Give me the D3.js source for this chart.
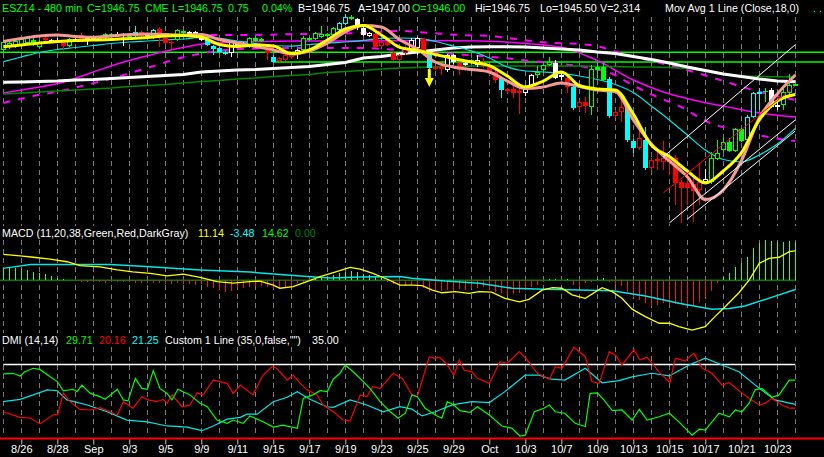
<!DOCTYPE html>
<html>
<head>
<meta charset="utf-8">
<script src="https://cdn.jsdelivr.net/npm/d3@7"></script>
<style>
  html, body { margin: 0; padding: 0; background: #000; }
  svg { display: block; }
  text { font-family: "Liberation Sans", Arial, sans-serif; font-size: 10.7px; }
</style>
</head>
<body>
<div id="chart"></div>
<script>
// ---- data: ESZ14 480 min bars (8/25 .. 10/24), 3 bars per session
var opens = [1977.75,1980.25,1981.25,1982,1984,1986.5,1980.25,1988.5,1986.5,1984.75,
  1984.75,1981.25,1987.5,1991,1985.75,1988.5,1987.5,1989.25,1992,1992,
  1992,1989.25,1990.25,1993.75,1991,1988.5,1996.5,1988.5,1984.75,1986.5,
  1994.75,1992,1993.75,1989.25,1986.5,1981.25,1979.5,1975.75,1975,1984,
  1982,1980.25,1988.5,1985.75,1977.75,1971.5,1967.75,1968.75,1971.5,1974,
  1977.75,1988.5,1987.5,1989.25,1992,1991,1995.5,2001,2007.25,2005.5,
  1997.5,1990.25,1992,1981.25,1984.75,1975,1968.75,1975,1977.75,1979.5,
  1987.5,1975,1960.5,1962.5,1959.75,1973.25,1966,1966,1968.75,1964.25,
  1966,1962.5,1958,1952.5,1941,1942.75,1941,1939,1945.5,1955.25,
  1959.75,1964.25,1966,1953.5,1952.5,1944.5,1926.5,1931,1926.5,1962.5,
  1962.5,1951.75,1918.5,1922,1928.25,1896,1889.75,1897,1871.75,1880,
  1877.25,1880,1880.75,1859.25,1858.25,1857.5,1852,1859.25,1859.25,1880,
  1888,1895,1887,1906.75,1897,1917.5,1939,1941,1941.75,1926.5,
  1928.25,1939,1946];
var highs = [1986.5,1985.75,1987.5,1989.25,1990.25,1988.5,1986.5,1989.25,1987.5,1988.5,
  1986.5,1988.5,1988.5,1993,1990.25,1989.25,1990.25,1993,1993,1993.75,
  1993,1992,1999.25,1994.75,1992,1996.5,1998.25,1990.25,1985.75,1996.5,
  1995.5,1994.75,1994.75,1990.25,1987.5,1982,1980.25,1976.75,1985.75,1984.75,
  1984.75,1989.25,1990.25,1988.5,1978.5,1973.25,1971.5,1974,1976.75,1978.5,
  1990.25,1989.25,1993.75,1999.25,1993,1998.25,2002.75,2010,2009,2006.25,
  1998.25,1993.75,1993,1985.75,1985.75,1975.75,1974,1982,1988.5,1989.25,
  1988.5,1975.75,1963.25,1963.25,1974,1974,1967,1968.75,1969.5,1973.25,
  1970.5,1963.25,1959.75,1953.5,1943.5,1945.5,1943.5,1946.25,1956,1963.25,
  1965,1971.5,1968.75,1957,1953.5,1945.5,1932.75,1935.5,1964.25,1967,
  1966,1953.5,1923.75,1932.75,1931,1897.75,1906,1908.5,1880.75,1888,
  1896,1883.5,1883.5,1861,1862.75,1864.5,1876.25,1871,1886.25,1897,
  1898.75,1898.75,1907.75,1907.75,1919.25,1940,1943.5,1943.5,1943.5,1932.75,
  1944.5,1956,1946.75];
var lows = [1975.75,1978.5,1979.5,1980.25,1983,1981.25,1979.5,1985.75,1984,1984,
  1976.75,1980.25,1984.75,1984.75,1982,1985.75,1986.5,1987.5,1989.25,1989.25,
  1981.25,1988.5,1989.25,1989.25,1989.25,1987.5,1980.25,1983,1978.5,1985.75,
  1992,1991,1990.25,1985.75,1981.25,1973.25,1975,1973.25,1971.5,1981.25,
  1981.25,1979.5,1984.75,1984.75,1968.75,1966,1967,1967.75,1969.5,1969.5,
  1976.75,1985.75,1986.5,1988.5,1989.25,1990.25,1994.75,2000,2004.5,1995.5,
  1990.25,1989.25,1979.5,1980.25,1981.25,1967.75,1967.75,1973.25,1975.75,1973.25,
  1974,1960.5,1959.75,1955.25,1958,1965,1955.25,1963.25,1965,1962.5,
  1961.5,1955.25,1948,1934.5,1939,1934.5,1920.25,1936.5,1944.5,1952.5,
  1957,1963.25,1951.75,1950.75,1939,1923.75,1923.75,1921,1919.25,1952.5,
  1949.75,1916.75,1916.75,1913,1895,1885.25,1888,1870,1870,1870,
  1870,1865.5,1838.5,1822.5,1838.5,1823.25,1838.5,1858.25,1857.5,1879,
  1886.25,1886.25,1886.25,1895,1896,1916.75,1923.75,1931,1925.5,1923.75,
  1923.75,1937.25,1945.5];
var closes = [1984.75,1984,1985.75,1987.5,1988.5,1984,1984.75,1986.5,1985.75,1986.5,
  1981.25,1987.5,1985.75,1985.75,1988.5,1987.5,1989.25,1992,1990.25,1990.25,
  1991,1991,1993.75,1990.25,1990.25,1995.5,1993,1984,1984,1995.5,
  1993,1993.75,1992,1986.5,1982,1978.5,1975.75,1974,1984.75,1982,
  1984,1988.5,1985.75,1987.5,1975,1967,1970.5,1973.25,1975.75,1977.75,
  1988.5,1986.5,1993,1992,1990.25,1997.5,2002,2007.25,2005.5,1998.25,
  1991,1993,1980.25,1984.75,1982,1968.75,1973.25,1978.5,1986.5,1988.5,
  1975,1961.5,1962.5,1960.5,1973.25,1967,1959.75,1964.25,1966,1968.75,
  1963.25,1958,1950.75,1941.75,1942.75,1939,1939,1944.5,1955.25,1958,
  1964.25,1967,1952.5,1955.25,1944.5,1925.5,1931,1927.5,1960.5,1959.75,
  1950.75,1918.5,1922,1926.5,1897,1889.75,1898.75,1871.75,1879,1878,
  1880.75,1877.25,1858.25,1854,1854,1851,1859.25,1862,1880.75,1885.25,
  1895,1887,1906.75,1896,1917.5,1939,1940,1940,1926.5,1928.25,
  1940,1946.25,1946.75];
// paintbar colour per bar: g green, r red, c cyan, w white
var barColors = "gggggggrww" + "rgwrwwgggw" + "wgcrwcrrrg" + "gwwwccccww" + "wgggrcrrrw" +
  "ggggggccgw" + "wwrrrrrrww" + "rcrrwwrwgw" + "rrrcrrrwwg" + "ggwwrcrrgg" +
  "gcrrccrcrr" + "rrrrrrrwgg" + "ggggcccgww" + "ggg";

// moving averages, one value per session (bar = 3 * index)
var maYellow = [1980.6,1982.1,1983.9,1985.3,1986.2,1986.6,1987.1,1988.0,1988.9,1990.2,
  1990.7,1989.3,1982.6,1980.8,1982.1,1981.2,1974.5,1977.7,1986.6,1996.5,
  1999.6,1991.1,1980.3,1977.2,1973.6,1970.0,1966.9,1963.7,1954.3,1944.5,
  1949.8,1957.9,1945.8,1942.7,1941.8,1920.2,1892.4,1882.1,1869.1,1858.3,
  1869.1,1885.3,1914.9,1931.9,1937.7];
var maPink = [1985.3,1988.0,1990.2,1991.1,1989.8,1989.0,1990.2,1991.5,1992.0,1991.5,
  1991.1,1991.5,1987.1,1983.9,1980.8,1977.7,1974.1,1976.8,1983.7,1993.8,
  1999.6,1998.3,1987.1,1978.5,1966.9,1962.4,1960.2,1957.9,1949.8,1943.1,
  1944.5,1948.0,1944.9,1941.8,1940.4,1914.9,1893.3,1878.1,1864.0,1843.5,
  1852.1,1878.1,1916.7,1938.2,1955.2];
var maCyan = [1967.2,1971.4,1975.4,1978.1,1979.9,1981.7,1983.5,1984.8,1985.7,1986.6,
  1987.5,1988.9,1988.0,1985.7,1983.5,1981.7,1981.2,1982.6,1983.9,1984.8,
  1986.2,1988.0,1988.4,1988.0,1985.3,1981.2,1976.8,1970.5,1962.4,1958.8,
  1957.9,1956.6,1954.3,1951.2,1946.7,1939.5,1927.4,1914.9,1901.4,1888.0,
  1879.4,1877.2,1883.5,1893.3,1907.4];
var maWhite = [1948.7,1948.9,1949.4,1949.8,1950.7,1951.2,1952.1,1953.0,1953.9,1954.8,
  1955.7,1957.9,1958.8,1959.7,1960.2,1961.1,1962.0,1962.8,1964.6,1966.4,
  1970.5,1971.8,1974.1,1975.9,1977.7,1979.4,1980.3,1980.6,1980.6,1980.3,
  1979.4,1978.5,1977.7,1975.9,1974.5,1971.8,1969.1,1966.0,1962.4,1959.3,
  1956.1,1953.9,1951.6,1949.8,1949.2];
var maGreen = [1938.2,1939.1,1940.0,1940.9,1941.8,1942.7,1943.6,1944.9,1945.8,1946.7,
  1948.0,1949.4,1950.3,1951.6,1952.5,1953.9,1954.8,1955.7,1957.5,1958.4,
  1959.3,1960.6,1961.5,1962.0,1962.4,1962.8,1963.3,1963.3,1963.3,1963.3,
  1963.3,1963.3,1963.3,1962.8,1962.8,1962.4,1962.4,1962.0,1961.1,1958.8,
  1956.1,1954.3,1953.9,1953.7,1953.4];

// magenta envelope, [bar, price]
var envMid = [[0,1939.1],[5,1943.6],[9.5,1948.0],[14.5,1957.0],[19.5,1966.0],[24.5,1973.2],
  [29.5,1979.4],[34.5,1983.9],[39.5,1984.8],[49.5,1985.7],[59.5,1985.7],[69.5,1986.2],
  [79.5,1985.7],[86,1983.9],[92.8,1980.3],[99.5,1966.9],[105,1950.7],[110,1940.0],
  [115,1932.8],[121.6,1925.6],[127.3,1920.2],[132,1917.5]];
var envLow = [[0,1930.1],[5,1936.4],[9.5,1940.9],[14.5,1947.2],[19.5,1954.3],[24.5,1962.4],
  [29.5,1970.5],[34.5,1975.9],[39.5,1978.5],[49.5,1979.4],[59.5,1979.4],[69.5,1975.9],
  [79.5,1972.3],[89.5,1966.9],[97.8,1961.5],[101.6,1956.1],[104.5,1947.2],[109,1935.5],
  [113.3,1925.6],[117,1914.0],[122.8,1905.0],[129.5,1897.8],[132,1896.0]];
var envHigh = [[27,1990.2],[32.8,1991.1],[40,1991.1],[49.5,1992.0],[59.5,1992.9],[66.1,1994.7],
  [71.1,1992.9],[76.1,1991.1],[81.1,1990.2],[89.5,1984.8],[97.8,1982.1],[104.5,1972.3],
  [112.8,1961.5],[119.5,1950.7],[126.1,1940.0],[132,1932.8]];

// horizontal levels and drawn trendlines
var levels = [{price: 1975.6, fromBar: -1}, {price: 1966.9, fromBar: 45}];
var trendLines = [
  {a: [110, 1881.7], b: [132, 1982.4], color: "#ffffff"},
  {a: [111, 1822.5], b: [132, 1914.9], color: "#ffffff"},
  {a: [114, 1826.0], b: [132, 1905.0], color: "#ffffff"},
  {a: [110, 1849.4], b: [132, 1945.4], color: "#ff0000"}
];
var arrowBars = [71];

// MACD (11,20,38), [bar, value]
var macdLine = [[0,9.8],[2.8,9.2],[5,8.7],[7.8,8.0],[10.6,7.0],[12.8,5.5],[16.1,5.1],[19,3.9],
  [21.6,3.2],[24.5,2.6],[27.3,1.7],[30,2.3],[32.8,1.1],[35.6,-0.5],[38.3,-1.1],[41.1,-0.5],
  [42.8,-0.3],[45,-1.8],[46.1,-3.0],[48.3,-2.4],[50.6,-0.5],[52.8,1.4],[55,2.9],[57.8,4.9],
  [59.5,4.2],[61.6,2.6],[64,0.4],[66.1,-1.8],[68.1,-1.8],[69.8,-2.0],[71.5,-3.7],[73.1,-4.7],
  [75.3,-4.3],[77.6,-4.9],[79.3,-4.3],[81.4,-4.5],[83.6,-6.8],[86,-8.1],[87.6,-7.2],[89.8,-3.7],
  [91.5,-2.8],[93.1,-3.0],[94.8,-5.5],[97,-6.8],[99.8,-2.8],[101.5,-4.3],[103.1,-6.8],[104.8,-10.9],
  [107,-13.7],[109.3,-16.2],[111,-16.2],[112.6,-17.5],[114.8,-18.8],[117,-17.5],[118.6,-13.7],
  [120.3,-10.0],[122.6,-4.7],[124.3,0.1],[126,6.4],[127.6,8.3],[129.3,8.7],[131,10.8],[132,11.1]];
var macdSignal = [[0,4.5],[4.5,6.0],[17.8,6.0],[24.5,5.1],[32.8,3.9],[41.1,3.1],[49.5,1.6],
  [54.5,0.9],[59.5,1.2],[66.1,1.4],[68.1,0.8],[73.6,-0.3],[79.3,-1.1],[84.8,-3.0],[90.3,-3.4],
  [96,-3.7],[101.5,-3.9],[107,-5.9],[112.6,-8.7],[118.1,-10.9],[121,-10.6],[123.6,-9.7],
  [129.3,-5.5],[132,-3.5]];
var macdHist = [4.5,4.8,4.8,4.2,3.7,3.3,2.6,2.3,1.6,0.7,
  0.4,0.1,-0.4,-0.5,-0.5,-0.6,-0.6,-0.9,-0.8,-0.6,
  -0.5,-0.8,-1.1,-0.9,-1.0,-1.1,-1.2,-1.4,-1.3,-1.1,
  -1.4,-1.5,-1.6,-1.5,-2.4,-3.0,-3.7,-4.3,-3.9,-3.3,
  -2.8,-2.4,-2.2,-2.0,-2.4,-2.8,-3.0,-2.4,-2.2,-1.1,
  -0.6,-0.1,0.7,1.1,1.4,2.0,2.6,3.3,3.5,3.3,
  2.3,2.0,1.4,0.7,-0.6,-1.4,-1.8,-2.2,-1.8,-2.4,
  -3.0,-4.3,-3.7,-3.9,-3.7,-3.9,-3.4,-3.7,-3.0,-2.8,
  -2.4,-3.7,-4.3,-4.9,-5.5,-5.2,-4.9,-3.7,-2.4,-1.8,
  -0.5,0.4,0.5,0.1,0.4,-1.8,-2.4,-1.1,-0.5,0.5,
  0.7,-0.5,-1.8,-2.2,-4.3,-6.2,-7.4,-8.7,-9.7,-9.3,
  -8.7,-9.3,-8.9,-8.7,-9.3,-9.3,-8.0,-6.4,-3.9,-1.1,
  1.1,2.6,5.1,6.4,8.7,12.1,14.0,15.2,15.0,14.6,
  14.6,15.0,14.6];

// DMI (14,14), [bar, value]
var diPlus = [[0,31.8],[1.6,32.0],[2.8,31.1],[3.6,32.5],[5,33.7],[6.1,33.3],[7.8,30.8],[9,29.2],
  [10,26.1],[11.6,26.6],[12.3,25.8],[13.1,28.0],[14.5,25.2],[16.1,24.1],[17,23.2],[19,26.6],
  [20,23.0],[20.8,22.7],[22,30.3],[23.1,26.9],[24,26.6],[25,32.9],[26.1,26.9],[27.3,25.2],
  [28.1,23.0],[29.1,26.6],[31.1,24.7],[32.8,21.9],[34,20.7],[35.6,16.2],[37.3,15.1],[38.3,16.2],
  [40,15.1],[41.1,17.6],[43.3,15.6],[45,13.8],[46.6,14.5],[49,13.4],[50,23.5],[51.6,24.7],
  [52.8,26.1],[54,25.8],[55,30.0],[56.1,32.0],[57,34.8],[58.3,32.5],[60,29.2],[61.1,26.9],
  [62.8,22.4],[64.5,19.0],[65.8,16.8],[67,18.5],[68.1,24.7],[69,24.1],[70.3,20.2],[72,17.9],
  [73.1,16.8],[74,22.4],[75.1,21.3],[76.1,19.4],[77.8,18.8],[79,20.7],[81,17.9],[83.1,14.2],
  [84.8,13.4],[86.1,10.8],[87,11.1],[88.5,19.0],[90.1,20.2],[91,21.3],[92,19.0],[93.6,18.5],
  [95.3,15.1],[97,14.0],[97.8,25.2],[99,25.4],[100.1,23.0],[101.5,19.4],[103.1,19.6],[104.8,16.2],
  [106,19.8],[107.3,16.2],[109.3,17.3],[111,18.5],[112.6,15.6],[114.8,11.1],[116,13.1],[117,12.8],
  [119.3,18.5],[121,17.3],[122,19.6],[123.1,19.0],[124.3,21.9],[125.3,26.4],[126.4,26.9],
  [128.1,23.9],[129.3,24.7],[131,29.7],[132,29.7]];
var diMinus = [[0,19.0],[2.8,17.1],[4.5,16.9],[6.1,14.9],[8.3,17.9],[9.1,18.2],[10,25.4],[11.1,22.4],
  [12.8,19.8],[14.5,19.6],[16.1,20.4],[17.8,19.0],[19,17.9],[20,22.4],[21.6,20.2],[23.1,24.1],
  [24.1,23.0],[25.6,22.4],[26.6,23.2],[27.3,21.9],[28.1,24.7],[29.8,20.7],[31.1,21.3],[32.3,25.4],
  [33.3,24.7],[35,29.7],[37.3,28.6],[38.3,25.2],[39.5,28.0],[41.6,24.7],[43.3,31.4],[44.8,34.2],
  [45.6,33.7],[47.3,29.7],[48.3,31.4],[49.5,28.6],[50.6,26.4],[52.3,24.7],[53.3,21.3],[55,19.0],
  [56.6,16.2],[57.8,15.9],[59.5,24.7],[60.6,24.1],[61.6,27.5],[62.8,26.9],[65,32.0],[66.6,30.0],
  [68.1,24.7],[69,24.1],[71,37.6],[71.8,37.1],[72.8,37.4],[74,34.8],[75.1,31.4],[76,36.5],
  [76.8,33.1],[78.1,32.5],[79,30.3],[81,28.6],[82.8,35.9],[84,35.4],[86,39.3],[87.3,36.5],
  [89,32.0],[91,30.0],[92,34.2],[93.1,33.7],[95.1,40.8],[97,37.6],[98.1,29.2],[99.3,28.6],
  [101,39.3],[102,38.2],[103.1,34.8],[105.1,39.9],[106.1,36.5],[107.3,37.4],[109.3,32.5],
  [111.1,28.8],[112,37.1],[113.6,36.2],[115.1,38.8],[116.5,33.7],[118.1,32.0],[119.8,28.0],
  [121,28.8],[122.8,25.8],[124.3,23.5],[126,21.3],[127,21.9],[128.1,23.5],[129.8,21.3],
  [131,20.2],[132,20.2]];
var adx = [[0,22.4],[2.8,23.2],[5,24.7],[7.3,26.4],[9,26.1],[10.6,23.0],[14,21.3],[17.3,19.0],
  [20.6,16.2],[24,15.6],[27.3,14.2],[30.6,13.8],[33.1,12.6],[35,14.2],[37.3,16.5],[39.5,17.1],
  [40.6,18.2],[42.3,18.2],[45,22.4],[47.3,23.9],[49,25.8],[51.1,23.2],[53.9,20.7],[55,20.5],
  [57.8,23.0],[60.6,21.3],[63.3,19.0],[66.1,20.7],[68.1,19.9],[69.8,17.6],[72,19.0],[74.8,21.3],
  [78.1,22.4],[81,22.1],[83.6,25.8],[87,31.4],[89.3,31.4],[91.4,30.0],[93.6,29.7],[97,33.7],
  [99.8,28.8],[102.6,29.5],[104.8,30.8],[108.1,32.0],[111,31.1],[114.3,34.8],[117,37.1],
  [119.8,34.8],[122.6,32.5],[126,26.9],[128.6,23.0],[132,21.5]];
var dmiLevel = 35;

// x axis labels, every second session
var tickLabels = ["8/26","8/28","Sep","9/3","9/5","9/9","9/11","9/15","9/17","9/19","9/23",
  "9/25","9/29","Oct","10/3","10/7","10/9","10/13","10/15","10/17","10/21","10/23"];

// status lines
var header = [
  {t: "ESZ14 - 480 min", x: 2, c: "#00ff00"}, {t: "C=1946.75", x: 87, c: "#00ff00"},
  {t: "CME", x: 145, c: "#00ff00"}, {t: "L=1946.75", x: 172, c: "#00ff00"},
  {t: "0.75", x: 228, c: "#00ff00"}, {t: "0.04%", x: 262, c: "#00ff00"},
  {t: "B=1946.75", x: 298, c: "#ffffff"}, {t: "A=1947.00", x: 358, c: "#ffffff"},
  {t: "O=1946.00", x: 412, c: "#00ff00"}, {t: "Hi=1946.75", x: 475, c: "#ffffff"},
  {t: "Lo=1945.50", x: 540, c: "#ffffff"}, {t: "V=2,314", x: 600, c: "#ffffff"},
  {t: "Mov Avg 1 Line (Close,18,0)", x: 665, c: "#ffffff"}, {t: ". .", x: 813, c: "#00ffff"}
];
var macdLabels = [
  {t: "MACD (11,20,38,Green,Red,DarkGray)", x: 2, c: "#ffffff"}, {t: "11.14", x: 198, c: "#ffff00"},
  {t: "-3.48", x: 230, c: "#00ffff"}, {t: "14.62", x: 262, c: "#00ff00"}, {t: "0.00", x: 295, c: "#008000"}
];
var dmiLabels = [
  {t: "DMI (14,14)", x: 2, c: "#ffffff"}, {t: "29.71", x: 66, c: "#00ff00"},
  {t: "20.16", x: 99, c: "#ff0000"}, {t: "21.25", x: 132, c: "#00ffff"},
  {t: "Custom 1 Line (35,0,false,\"\")", x: 165, c: "#ffffff"}, {t: "35.00", x: 312, c: "#ffffff"}
];

// ---- chart
var width = 824, height = 457;
var plotRight = 795.3;
var colorOf = {g: "#00ff00", r: "#ff0000", c: "#00ffff", w: "#ffffff"};

var svg = d3.select("#chart").append("svg")
    .attr("width", width)
    .attr("height", height);
svg.append("rect").attr("width", width).attr("height", height).attr("fill", "#000");

var x = d3.scaleLinear().domain([0, 132]).range([3.3, plotRight]);
var yPrice = d3.scaleLinear().domain([1820, 2012]).range([225.75, 11.7]);
var yMacd = d3.scaleLinear().domain([-20, 15]).range([333.3, 240.55]);
var yDmi = d3.scaleLinear().domain([10, 41.5]).range([438.4, 345.16]);

// dashed session grid, one band per pane
var gridBars = d3.range(0, 133, 3);
var bands = [[17, 226], [240, 333], [347, 437]];
bands.forEach(function(b){
    svg.append("g").selectAll("line").data(gridBars).enter().append("line")
        .attr("x1", function(d){ return Math.round(x(d)) + 0.5; })
        .attr("x2", function(d){ return Math.round(x(d)) + 0.5; })
        .attr("y1", b[0]).attr("y2", b[1])
        .style("stroke", "#7a7a7a")
        .style("stroke-dasharray", "5,4");
});

// ---- price pane
var gp = svg.append("g");

gp.selectAll(".lvl").data(levels).enter().append("line")
    .attr("x1", function(d){ return d.fromBar < 0 ? 0 : x(d.fromBar); })
    .attr("x2", width)
    .attr("y1", function(d){ return yPrice(d.price); })
    .attr("y2", function(d){ return yPrice(d.price); })
    .style("stroke", "#00ff00").style("stroke-width", 1.5);

function dayPath(arr, curve){
    return d3.line()
        .x(function(d, i){ return x(i * 3); })
        .y(function(d){ return yPrice(d); })
        .curve(curve)(arr);
}
function pairPath(arr, yScale, curve){
    return d3.line()
        .x(function(d){ return x(d[0]); })
        .y(function(d){ return yScale(d[1]); })
        .curve(curve || d3.curveLinear)(arr);
}

gp.append("path").attr("d", pairPath(envMid, yPrice, d3.curveMonotoneX))
    .attr("fill", "none").style("stroke", "#ff00ff").style("stroke-width", 1.5);
gp.append("path").attr("d", pairPath(envLow, yPrice, d3.curveMonotoneX))
    .attr("fill", "none").style("stroke", "#ff00ff").style("stroke-width", 2)
    .style("stroke-dasharray", "7,8");
gp.append("path").attr("d", pairPath(envHigh, yPrice, d3.curveMonotoneX))
    .attr("fill", "none").style("stroke", "#ff00ff").style("stroke-width", 2)
    .style("stroke-dasharray", "7,8");

gp.append("path").attr("d", dayPath(maGreen, d3.curveLinear))
    .attr("fill", "none").style("stroke", "#008a00").style("stroke-width", 1.5);
gp.append("path").attr("d", dayPath(maWhite, d3.curveLinear))
    .attr("fill", "none").style("stroke", "#ffffff").style("stroke-width", 3);
gp.append("path").attr("d", dayPath(maCyan, d3.curveMonotoneX))
    .attr("fill", "none").style("stroke", "#00e8e8").style("stroke-width", 1.2);

// candles
var bars = d3.range(opens.length);
gp.append("g").selectAll("line").data(bars).enter().append("line")
    .attr("x1", function(i){ return Math.round(x(i)) + 0.5; })
    .attr("x2", function(i){ return Math.round(x(i)) + 0.5; })
    .attr("y1", function(i){ return yPrice(highs[i]); })
    .attr("y2", function(i){ return yPrice(lows[i]); })
    .style("stroke", function(i){ return colorOf[barColors[i]]; })
    .style("shape-rendering", "crispEdges");

gp.append("g").selectAll("rect").data(bars).enter().append("rect")
    .each(function(i){
        var up = closes[i] >= opens[i];
        var top = yPrice(Math.max(opens[i], closes[i]));
        var h = Math.max(Math.abs(yPrice(opens[i]) - yPrice(closes[i])), 1);
        var col = colorOf[barColors[i]];
        var cx = Math.round(x(i));
        if (up) {
            d3.select(this).attr("x", cx - 1.5).attr("y", Math.round(top) + 0.5)
                .attr("width", 4).attr("height", Math.max(Math.round(h) - 1, 1))
                .attr("fill", "#000").style("stroke", col);
        } else {
            d3.select(this).attr("x", cx - 2).attr("y", Math.round(top))
                .attr("width", 5).attr("height", Math.max(Math.round(h), 1))
                .attr("fill", col);
        }
    })
    .style("shape-rendering", "crispEdges");

gp.append("path").attr("d", dayPath(maPink, d3.curveMonotoneX))
    .attr("fill", "none").style("stroke", "#f59a94").style("stroke-width", 3);
gp.append("path").attr("d", dayPath(maYellow, d3.curveMonotoneX))
    .attr("fill", "none").style("stroke", "#ffff00").style("stroke-width", 3);

gp.selectAll(".tl").data(trendLines).enter().append("line")
    .attr("x1", function(d){ return x(d.a[0]); })
    .attr("y1", function(d){ return yPrice(d.a[1]); })
    .attr("x2", function(d){ return x(d.b[0]); })
    .attr("y2", function(d){ return yPrice(d.b[1]); })
    .style("stroke", function(d){ return d.color; })
    .style("stroke-width", 1);

// sell arrow under the bar
arrowBars.forEach(function(i){
    var ax = x(i), ay = yPrice(lows[i]);
    gp.append("rect").attr("x", ax - 1.5).attr("y", ay).attr("width", 3).attr("height", 11)
        .attr("fill", "#ffff00");
    gp.append("path")
        .attr("d", "M" + (ax - 4.5) + "," + (ay + 9) + "L" + (ax + 4.5) + "," + (ay + 9) + "L" + ax + "," + (ay + 18) + "Z")
        .attr("fill", "#ffff00");
});

// ---- MACD pane
var gm = svg.append("g");
gm.append("line").attr("x1", 0).attr("x2", plotRight)
    .attr("y1", yMacd(0)).attr("y2", yMacd(0))
    .style("stroke", "#008000").style("stroke-width", 1.5);

gm.append("g").selectAll("line").data(bars).enter().append("line")
    .attr("x1", function(i){ return Math.round(x(i)) + 0.5; })
    .attr("x2", function(i){ return Math.round(x(i)) + 0.5; })
    .attr("y1", yMacd(0))
    .attr("y2", function(i){ return yMacd(macdHist[i]); })
    .style("stroke", function(i){ return macdHist[i] >= 0 ? "#33ff33" : "#ff1010"; })
    .style("stroke-width", 1)
    .style("shape-rendering", "crispEdges");

gm.append("path").attr("d", pairPath(macdSignal, yMacd))
    .attr("fill", "none").style("stroke", "#00e8e8").style("stroke-width", 1.5);
gm.append("path").attr("d", pairPath(macdLine, yMacd))
    .attr("fill", "none").style("stroke", "#ffff00").style("stroke-width", 1.3);

// ---- DMI pane
var gd = svg.append("g");
gd.append("line").attr("x1", x(0)).attr("x2", plotRight)
    .attr("y1", yDmi(dmiLevel)).attr("y2", yDmi(dmiLevel))
    .style("stroke", "#ffffff").style("stroke-width", 1.5);
gd.append("path").attr("d", pairPath(adx, yDmi))
    .attr("fill", "none").style("stroke", "#00e8e8").style("stroke-width", 1.2);
gd.append("path").attr("d", pairPath(diMinus, yDmi))
    .attr("fill", "none").style("stroke", "#ff0000").style("stroke-width", 1.2);
gd.append("path").attr("d", pairPath(diPlus, yDmi))
    .attr("fill", "none").style("stroke", "#00ff00").style("stroke-width", 1.2);

// ---- time axis
var axisY = 438.5;
var xAxis = d3.axisBottom(x)
    .tickValues(d3.range(3, 133, 6))
    .tickFormat(function(d, i){ return tickLabels[i]; })
    .tickSize(6)
    .tickPadding(1);
var ga = svg.append("g").attr("transform", "translate(0," + axisY + ")").call(xAxis);
ga.select(".domain").remove();
ga.selectAll(".tick line").style("stroke", "#c8c8c8");
ga.selectAll(".tick text").attr("fill", "#ffffff")
    .style("font-family", "\"Liberation Sans\", Arial, sans-serif").style("font-size", "11px");

svg.append("line").attr("x1", 0).attr("x2", width)
    .attr("y1", axisY).attr("y2", axisY)
    .style("stroke", "#ff0000").style("stroke-width", 2);

// ---- status texts
function writeLine(items, baseY){
    svg.append("g").selectAll("text").data(items).enter().append("text")
        .attr("x", function(d){ return d.x; })
        .attr("y", baseY)
        .attr("fill", function(d){ return d.c; })
        .text(function(d){ return d.t; });
}
writeLine(header, 12);
writeLine(macdLabels, 237);
writeLine(dmiLabels, 344);
</script>
</body>
</html>
